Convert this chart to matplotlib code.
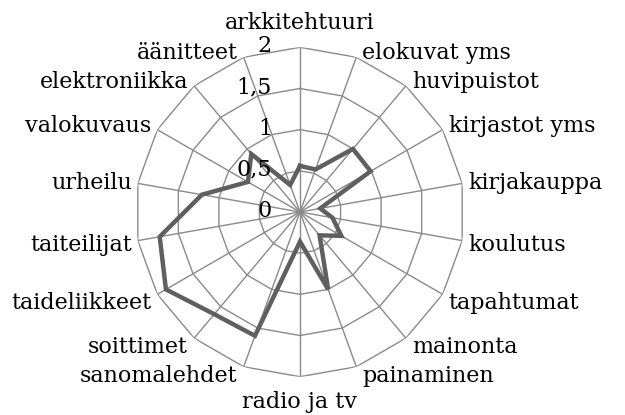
import matplotlib
matplotlib.use("Agg")
import matplotlib.pyplot as plt
import numpy as np

# kategoriat myotapaivaan ylhaalta alkaen
kategoriat = ["arkkitehtuuri", "elokuvat yms", "huvipuistot", "kirjastot yms",
              "kirjakauppa", "koulutus", "tapahtumat", "mainonta", "painaminen",
              "radio ja tv", "sanomalehdet", "soittimet", "taideliikkeet",
              "taiteilijat", "urheilu", "valokuvaus", "elektroniikka", "äänitteet"]
arvot = [0.56, 0.55, 1.0, 0.99, 0.25, 0.4, 0.58, 0.37, 1.0,
         0.36, 1.6, 1.62, 1.88, 1.73, 1.21, 0.73, 0.92, 0.35]
tasot = [0.5, 1.0, 1.5, 2.0]
tasot_tekstit = ["0", "0,5", "1", "1,5", "2"]

plt.rcParams['font.family'] = 'DejaVu Serif'
fsize = 16
harmaa = '#8a8a8a'

n = len(kategoriat)
kulmat = np.arange(n) * 2 * np.pi / n

fig = plt.figure(figsize=(6.25, 4.15), dpi=100)
ax = fig.add_axes([0.2165, 0.0923, 0.527, 0.7937], projection='polar')
ax.set_theta_zero_location('N')
ax.set_theta_direction(-1)
ax.set_ylim(0, 2)
ax.grid(False)
ax.set_xticks([])
ax.set_yticks([])
ax.spines['polar'].set_visible(False)
ax.patch.set_visible(False)

# monikulmioverkko
k_suljettu = np.append(kulmat, kulmat[0])
for t in tasot:
    ax.plot(k_suljettu, [t] * (n + 1), color=harmaa, lw=1.0, zorder=1)
for k in kulmat:
    ax.plot([k, k], [0, 2], color=harmaa, lw=1.0, zorder=1)

# data
ax.plot(k_suljettu, arvot + [arvot[0]], color='#5f5f5f', lw=3.2, zorder=3,
        solid_joinstyle='miter')

# akselin arvot
for i, txt in enumerate(tasot_tekstit):
    ax.annotate(txt, xy=(0, i * 0.5), xytext=(-28, 1), textcoords='offset pixels',
                ha='right', va='center', fontsize=fsize, color='black',
                annotation_clip=False)

# kategoriat
for k, nimi in zip(kulmat, kategoriat):
    s = np.sin(k)
    c = np.cos(k)
    if abs(s) < 0.01:
        ha = 'center'
        dx = 0
        dy = -18 if c > 0 else 31
    else:
        ha = 'left' if s > 0 else 'right'
        dx = 6 if s > 0 else -6
        if c > 0.3:
            dy = 2
        elif c < -0.3:
            dy = 15
        else:
            dy = 8 - 12 * c
    ax.annotate(nimi, xy=(k, 2), xytext=(dx, -dy), textcoords='offset pixels',
                ha=ha, va='baseline', fontsize=fsize, color='black',
                annotation_clip=False)

plt.savefig("out.png", dpi=100)
